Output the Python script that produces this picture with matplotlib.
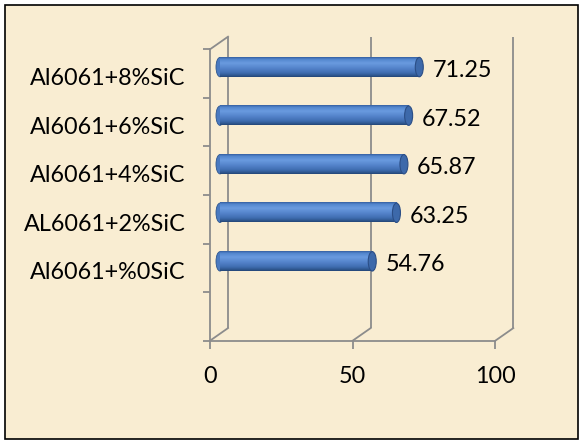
import numpy as np
import matplotlib
matplotlib.use("Agg")
import matplotlib.pyplot as plt
from matplotlib.patches import Rectangle, Ellipse
from matplotlib.colors import LinearSegmentedColormap
from matplotlib.transforms import ScaledTranslation

# ---- data ----
categories = ["Al6061+%0SiC", "AL6061+2%SiC", "Al6061+4%SiC", "Al6061+6%SiC", "Al6061+8%SiC"]
values = [54.76, 63.25, 65.87, 67.52, 71.25]
value_labels = ["54.76", "63.25", "65.87", "67.52", "71.25"]
x_ticks = [0, 50, 100]
x_tick_labels = ["0", "50", "100"]

plt.rcParams['font.family'] = ['Lato', 'DejaVu Sans']
FS = 16.8
W, H = 583, 444
fig = plt.figure(figsize=(W / 100, H / 100), dpi=100, facecolor="white")

# parchment chart area with black border
fig.patches.append(Rectangle((5 / W, 1 - 438.5 / H), (578 - 5) / W, (438.5 - 5.5) / H,
                             transform=fig.transFigure, facecolor="#F9EDD2",
                             edgecolor="black", linewidth=1.2, zorder=-5))

x0p, x1p = 210, 495.3
ytop, ybot = 49.3, 340.7
ax = fig.add_axes([x0p / W, 1 - ybot / H, (x1p - x0p) / W, (ybot - ytop) / H])
ax.set_zorder(2)
ax.set_facecolor("none")
ax.set_xlim(0, 100)
ax.set_ylim(0, 6)

grey = "#8C8C8C"
lw = 1.3
pxx = (x1p - x0p) / 100.0
pxy = (ybot - ytop) / 6.0
ddx, ddy = 18 / pxx, 12.6 / pxy  # depth of the 3-D box in data units

for s in ["top", "right"]:
    ax.spines[s].set_visible(False)
for s in ["left", "bottom"]:
    ax.spines[s].set_color(grey)
    ax.spines[s].set_linewidth(lw)

ax.set_xticks(x_ticks)
ax.set_xticklabels(x_tick_labels, fontsize=FS)
ax.tick_params(axis="x", length=5.5, width=lw, color=grey, pad=13)
ax.set_yticks(range(0, 7))
ax.set_yticklabels([""] * 7)
ax.tick_params(axis="y", length=5, width=lw, color=grey)
cat_pos = [1.5 + i for i in range(len(categories))]
ax.set_yticks(cat_pos, minor=True)
ax.set_yticklabels(categories, minor=True, fontsize=FS)
ax.tick_params(axis="y", which="minor", length=0, pad=17.5)
shift = ScaledTranslation(0, -3 / 100, fig.dpi_scale_trans)
for t in ax.get_yticklabels(minor=True):
    t.set_transform(t.get_transform() + shift)

# back wall gridlines, floor diagonals, left-wall top diagonal
for xv in x_ticks:
    ax.plot([xv + ddx, xv + ddx], [ddy, 6 + ddy], color=grey, lw=lw, clip_on=False, zorder=1,
            solid_capstyle="butt")
    ax.plot([xv, xv + ddx], [0, ddy], color=grey, lw=lw, clip_on=False, zorder=1)
ax.plot([0, ddx], [6, 6 + ddy], color=grey, lw=lw, clip_on=False, zorder=1)

# cylinders
bx = 6 / pxx
by = 6.5 / pxy
bh = 19.4 / pxy
capw = 8 / pxx
cmap = LinearSegmentedColormap.from_list("cyl", [
    (0.0, "#3660A0"), (0.1, "#5386CE"), (0.3, "#6A9BDF"), (0.55, "#5584CC"),
    (0.8, "#3F6DB0"), (0.93, "#2E568E"), (1.0, "#244677")])
grad = np.linspace(0, 1, 64).reshape(-1, 1)
for yc, v, lab in zip(cat_pos, values, value_labels):
    yb = yc + by
    left = bx + capw / 2
    length = v - capw / 2
    ax.add_patch(Ellipse((left, yb), capw, bh, facecolor="#4A7AC0", edgecolor="#2E568E",
                         linewidth=0.6, zorder=3, clip_on=False))
    ax.imshow(grad, cmap=cmap, aspect="auto", interpolation="bilinear",
              extent=(left, left + length, yb - bh / 2, yb + bh / 2), origin="upper",
              zorder=4, clip_on=False)
    ax.add_patch(Ellipse((left + length, yb), capw, bh, facecolor="#3D69AA",
                         edgecolor="#2B4E86", linewidth=0.8, zorder=5, clip_on=False))
    ax.text(left + length + capw / 2 + 9 / pxx, yb - 3.5 / pxy, lab, fontsize=FS,
            va="center", ha="left", color="black", zorder=6)

ax.set_xlim(0, 100)
ax.set_ylim(0, 6)
fig.savefig("out.png", dpi=100, facecolor="white")
